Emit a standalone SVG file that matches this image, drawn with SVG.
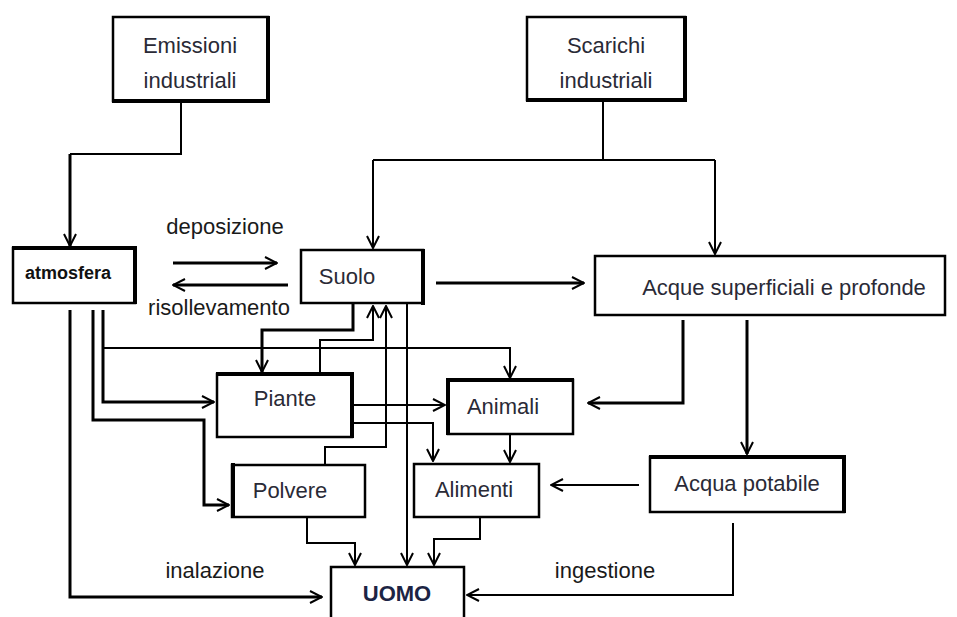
<svg xmlns="http://www.w3.org/2000/svg" width="957" height="617" viewBox="0 0 957 617">
<defs>
<style>
.box{fill:#fff;stroke:#000;stroke-width:2.5}
.sh{fill:none;stroke:#000;stroke-width:4;stroke-linecap:square}
.t{font-family:"Liberation Sans",Arial,sans-serif;font-size:22px;fill:#2a2a36;text-anchor:middle}
.lbl{font-family:"Liberation Sans",Arial,sans-serif;font-size:22px;fill:#1a1a1a;text-anchor:middle}
.c{fill:none;stroke:#000;stroke-width:2;marker-end:url(#ah)}
.k{stroke-width:3}
.n{fill:none;stroke:#000;stroke-width:2}
</style>
<marker id="ah" viewBox="0 0 14 14" refX="13" refY="7" markerWidth="14" markerHeight="14" markerUnits="userSpaceOnUse" orient="auto">
<path d="M1,1 L13,7 L1,13" fill="none" stroke="#000" stroke-width="2"/>
</marker>
</defs>
<rect width="957" height="617" fill="#fff"/>
<g id="connectors">
<path class="n k" d="M181,101 V154 H70"/>
<path class="c k" d="M70,154 V246"/>
<path class="n" d="M603,100 V160 M373,160 H715"/>
<path class="c" d="M373,160 V248"/>
<path class="c" d="M715,160 V254"/>
<path class="c k" d="M173,263 H277"/>
<path class="c k" d="M288,285 H173"/>
<path class="c k" d="M436,283 H584"/>
<path class="c k" d="M70,310 V597 H322"/>
<path class="c k" d="M93,310 V420 H204 V505 H229"/>
<path class="c k" d="M103,310 V402 H214"/>
<path class="c" d="M103,348 H510 V378"/>
<path class="c k" d="M353,303 V330 H262 V372"/>
<path class="c" d="M320,374 V340 H373 V306"/>
<path class="c" d="M325,465 V447 H386 V306"/>
<path class="c" d="M407,303 V565"/>
<path class="c" d="M352,405 H445"/>
<path class="c" d="M352,423 H433 V461"/>
<path class="c" d="M510,434 V462"/>
<path class="c k" d="M683,320 V403 H588"/>
<path class="c k" d="M747,320 V454"/>
<path class="c" d="M639,485 H551"/>
<path class="c" d="M733,523 V595 H467"/>
<path class="c" d="M480,517 V539 H434 V565"/>
<path class="c" d="M307,517 V543 H355 V565"/>
</g>
<g id="labels">
<text class="lbl" x="225" y="234">deposizione</text>
<text class="lbl" x="219" y="315">risollevamento</text>
<text class="lbl" x="215" y="578">inalazione</text>
<text class="lbl" x="605" y="578">ingestione</text>
</g>
<g id="emissioni">
<rect class="box" x="113" y="17" width="155" height="84"/>
<path class="sh" d="M268,18 V101 H114"/>
<text class="t" x="190" y="53">Emissioni</text>
<text class="t" x="190" y="88">industriali</text>
</g>
<g id="scarichi">
<rect class="box" x="527" y="17" width="158" height="83"/>
<path class="sh" d="M685,18 V100 H528"/>
<text class="t" x="606" y="53">Scarichi</text>
<text class="t" x="606" y="88">industriali</text>
</g>
<g id="atmosfera">
<rect class="box" x="13" y="248" width="122" height="55"/>
<path class="sh" d="M14,248 H135 V302"/>
<text class="t" x="68" y="279" style="font-size:18px;font-weight:bold;fill:#111">atmosfera</text>
</g>
<g id="suolo">
<rect class="box" x="301" y="250" width="122" height="53"/>
<path class="sh" d="M423,251 V303"/>
<text class="t" x="347" y="284">Suolo</text>
</g>
<g id="acque">
<rect class="box" x="595" y="256" width="350" height="59"/>
<text class="t" x="784" y="295">Acque superficiali e profonde</text>
</g>
<g id="piante">
<rect class="box" x="217" y="374" width="135" height="63"/>
<path class="sh" d="M218,374 H352 V436"/>
<text class="t" x="285" y="406">Piante</text>
</g>
<g id="animali">
<rect class="box" x="448" y="380" width="125" height="54"/>
<path class="sh" d="M448,433 V380 H572"/>
<text class="t" x="503" y="414">Animali</text>
</g>
<g id="polvere">
<rect class="box" x="232" y="465" width="133" height="52"/>
<path class="sh" d="M233,465 V516"/>
<text class="t" x="290" y="498">Polvere</text>
</g>
<g id="alimenti">
<rect class="box" x="414" y="464" width="125" height="53"/>
<text class="t" x="474" y="497">Alimenti</text>
</g>
<g id="acqua-potabile">
<rect class="box" x="650" y="457" width="194" height="55"/>
<path class="sh" d="M651,457 H844 V511"/>
<text class="t" x="747" y="491">Acqua potabile</text>
</g>
<g id="uomo">
<rect class="box" x="331" y="567" width="133" height="60"/>
<text class="t" x="397" y="601" style="font-weight:bold;fill:#1c2444">UOMO</text>
</g>
</svg>
